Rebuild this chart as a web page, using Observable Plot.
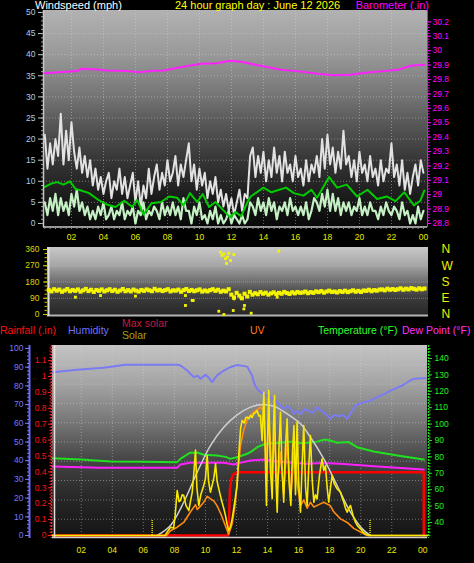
<!DOCTYPE html>
<html><head><meta charset="utf-8">
<script src="https://cdn.jsdelivr.net/npm/d3@7"></script>
<script src="https://cdn.jsdelivr.net/npm/@observablehq/plot@0.6"></script>
<style>
html,body{margin:0;padding:0;background:#000;}
#root{position:relative;width:474px;height:563px;background:#000;overflow:hidden;font-family:"Liberation Sans",Arial,sans-serif;}
#root svg{position:absolute;left:0;}
.lbl{position:absolute;white-space:nowrap;font-size:10.5px;line-height:13px;}
</style></head><body><div id="root"></div>
<script>
// ---------- tick labels ----------
const hourTicks = [2,4,6,8,10,12,14,16,18,20,22,24];
const hourLabels = ["02","04","06","08","10","12","14","16","18","20","22","00"];
const windTicks = [0,5,10,15,20,25,30,35,40,45,50];
const baroTicks = [28.8,28.9,29,29.1,29.2,29.3,29.4,29.5,29.6,29.7,29.8,29.9,30,30.1,30.2];
const baroLabels = ["28.8","28.9","29","29.1","29.2","29.3","29.4","29.5","29.6","29.7","29.8","29.9","30","30.1","30.2"];
const dirTicks = [0,90,180,270,360];
const dirLetters = ["N","E","S","W","N"];
const humTicks = [0,10,20,30,40,50,60,70,80,90,100];
const rainTicks = [0,0.1,0.2,0.3,0.4,0.5,0.6,0.7,0.8,0.9,1,1.1];
const rainLabels = ["0","0.1","0.2","0.3","0.4","0.5","0.6","0.7","0.8","0.9","1","1.1"];
const tempTicks = [40,50,60,70,80,90,100,110,120,130,140];

// ---------- wind (10-minute samples from 00:20) ----------
const windStart = 0.33, windStep = 1/6;
const gust = [
21,13,19,14,20,16, 26,14,22,15,24,17, 13,18,12,16,11,15, 9,13,8,11,7,10,
12,6,10,8,13,7, 11,6,9,12,5,10, 4,9,6,13,7,11, 14,8,12,9,15,10,
12,16,9,14,11,15, 19,10,14,8,13,9, 12,6,10,7,11,5, 8,4,7,3,6,2,
5,8,3,7,6,16, 18,11,16,12,17,10, 15,11,18,12,16,10, 17,12,14,10,16,11,
13,9,15,10,14,12, 16,11,20,13,21,14, 18,12,17,13,22,14, 16,11,15,10,17,12,
14,10,16,11,13,9, 15,10,13,12,19,11, 14,9,15,8,12,7, 11,14,9,15,12];
const speed = [
5,2,6,3,7,2, 6,3,5,2,7,4, 8,3,5,2,4,1, 3,1,4,2,5,1,
2,4,1,3,2,5, 1,3,2,4,0,3, 2,5,1,3,2,4, 3,1,5,2,4,2,
5,2,4,1,6,3, 3,0,4,2,5,1, 2,0,3,1,4,0, 2,0,1,3,0,2,
1,0,2,0,1,5, 4,2,6,3,5,2, 6,3,5,1,4,3, 5,2,6,3,4,2,
4,2,5,1,3,6, 5,3,7,4,8,3, 7,3,6,2,5,3, 5,2,4,3,6,2,
4,2,5,3,3,1, 4,2,5,3,2,4, 3,1,5,2,3,0, 2,0,4,1,3];
const avgT = [0.3,0.7,1.1,1.5,1.9,2.25,2.6,3.1,3.6,4.2,4.75,5.3,5.8,6.1,6.5,7.0,7.6,8.1,8.6,9.0,9.4,9.85,10.2,10.6,11.0,11.5,11.9,12.25,12.6,13.0,13.2,14.0,14.5,15.4,15.9,16.5,17.0,17.35,18.1,18.6,19.2,19.85,20.5,21.1,21.7,22.25,22.8,23.4,23.8,24.05];
const avgV = [8.6,9.4,9.8,9.2,10.0,8.2,7.8,7.2,5.8,4.5,3.9,5.4,3.9,5.6,2.1,4.8,5.1,6.4,6.1,4.3,7.2,5.1,7.0,3.9,5.1,3.1,1.5,2.7,1.7,5.1,6.4,8.5,7.4,8.5,7.2,6.6,8.0,6.1,11.0,8.5,9.2,6.4,8.0,5.8,6.4,5.3,7.4,4.3,5.4,7.8];

// ---------- barometer ----------
const baroT = [0.3,2.35,2.6,3.6,4.2,5.5,6.3,7.1,7.8,8.8,10.1,11.1,11.9,12.6,13.8,15.1,16.1,17.4,18.4,19.4,20.5,21.5,22.4,23.2,24.05];
const baroV = [29.844,29.858,29.874,29.869,29.862,29.858,29.851,29.86,29.862,29.885,29.909,29.913,29.93,29.923,29.895,29.867,29.858,29.84,29.83,29.833,29.849,29.858,29.867,29.895,29.902];

// ---------- wind direction ----------
const dirStart = 0.33, dirStep = 1/6;
const dirV = [
135,128,140,132,138,126, 133,141,129,136,131,139, 127,134,142,130,137,125, 136,131,139,128,134,140,
130,137,126,133,141,129, 135,128,138,132,127,136, 131,139,134,129,142,133, 137,130,135,140,128,134,
132,138,126,135,141,130, 136,129,134,139,127,133, 128,135,140,131,137,126, 132,128,140,110,95,120,
105,90,115,100,125,110, 118,112,124,115,121,110, 117,123,113,120,115,125, 119,114,123,117,125,120,
122,127,118,124,120,128, 124,130,121,127,132,125, 127,122,130,125,132,124, 129,134,126,131,125,133,
131,137,129,135,132,138, 139,134,143,137,141,136, 140,145,137,143,139,146, 142,138,145,140,144];
const dirExT = [11.15,11.25,11.36,11.46,11.57,11.67,11.78,11.53,11.99,14.82,8.94,9.36,8.94,2.01,5.79,3.59,11.04,11.36,11.95,12.62,12.66,13.08,12.0,12.41,14.72,9.43];
const dirExV = [345,327,336,309,318,340,299,283,332,351,105,78,50,96,102,105,18,0,22,31,50,7,87,96,96,78];

// ---------- bottom panel ----------
const humT = [0.15,1.74,3.45,4.85,8.18,8.39,8.82,9.25,9.5,9.68,10.0,10.2,10.43,10.6,10.75,11.18,11.6,12.04,12.69,13.0,13.15,13.33,13.5,13.76,14.0,14.4,14.7,15.04,15.3,15.5,15.69,15.9,16.12,16.4,16.65,16.9,17.2,17.4,17.62,17.8,18.05,18.3,18.59,18.85,19.13,19.4,19.66,20.2,20.6,21.06,21.5,21.91,22.3,22.77,23.1,23.41,24.17];
const humV = [87.3,88.6,89.7,91.3,91.3,90.9,88.2,84.7,85.5,83.8,85.9,84.5,82,84,85.6,88.2,90,91.2,90.3,85.6,81,78.4,77,75.8,74.5,73.1,70.5,67.8,69,67.8,65.1,66.5,65.1,67.5,66.8,65.5,68.6,67,65.9,64.5,62.4,64.5,63.8,64.5,62.4,66,69.5,71.3,72,74,75.5,77.5,78.8,80.6,82.5,83.8,84.1];
const tempT = [0.15,2,3.9,6,8.18,8.39,9.0,9.5,9.9,10.75,11.3,11.6,12.04,12.69,13.0,13.33,13.87,14.62,15.26,15.5,16.0,16.55,17.2,17.6,17.84,18.2,18.48,19.23,19.5,19.77,20.84,22.35,24.06];
const tempV = [79.2,78.4,77.2,77,76.8,78.8,82.5,82.5,81.3,80.9,80,78.8,79.8,81.9,83.5,85.9,88,88.4,89,89.3,88.4,88.6,89.3,90.4,90.4,89.5,88.6,89,87.5,85.9,83.3,80.9,78.4];
const dewT = [0.15,3.24,8.18,8.39,9.0,11.2,11.82,12.3,12.9,13.76,14.3,15.04,16.55,17.5,18.7,20.84,24.06];
const dewV = [74.1,73.3,73.3,75.4,76.4,76.4,75.4,76.5,77.8,78.4,77.5,76.8,75.8,76.2,75.8,74.3,72.3];
const rainT = [0.15,11.45,11.52,11.57,11.65,11.8,12.05,24.06,24.06];
const rainV = [0,0,0.1,0.28,0.35,0.385,0.398,0.398,0];
const maxSolT = [6.89,7.75,8.6,9.47,10.32,11.18,12.04,12.9,13.54,14.4,15.26,16.12,16.76,17.62,18.48,19.34,20.1,20.63];
const maxSolV = [0,74,245,467,663,798,889,946,963,953,897,823,724,565,368,172,49,0];
const solT = [0.15,7.4,7.53,7.75,7.95,8.05,8.18,8.3,8.39,8.5,8.6,8.75,8.93,9.05,9.15,9.25,9.36,9.45,9.57,9.7,9.89,10.0,10.11,10.2,10.32,10.45,10.55,10.65,10.75,10.86,10.97,11.07,11.18,11.29,11.4,11.5,11.6,11.72,11.85,11.95,12.04,12.15,12.26,12.36,12.5,12.6,12.69,12.8,12.9,13.0,13.11,13.22,13.33,13.44,13.54,13.65,13.76,13.85,13.93,14.0,14.08,14.18,14.3,14.38,14.45,14.53,14.62,14.72,14.83,14.93,15.04,15.15,15.26,15.38,15.5,15.6,15.7,15.8,15.9,16.0,16.12,16.22,16.33,16.45,16.55,16.65,16.76,16.88,16.98,17.08,17.19,17.35,17.51,17.62,17.73,17.84,17.94,18.05,18.16,18.3,18.48,18.6,18.7,18.8,18.91,19.02,19.13,19.23,19.34,19.5,19.66,19.8,19.98,20.15,20.3,20.52,24.3];
const solV = [0,0,24,61,55,150,332,250,258,300,295,220,184,260,319,455,630,350,221,300,368,420,590,400,319,380,430,528,400,344,290,245,200,147,80,37,60,123,220,300,368,600,786,848,830,870,872,860,885,870,897,905,921,880,884,700,1056,600,221,700,1069,500,272,800,1032,450,172,600,909,500,245,650,860,400,221,600,811,300,835,400,172,500,811,350,221,500,737,400,245,300,270,450,565,480,516,350,245,350,442,380,344,330,319,280,245,200,172,200,221,150,98,70,49,25,12,0,0];
const uvT = [0.15,7.5,7.75,8.18,8.6,9.04,9.36,9.47,9.7,9.89,10.11,10.32,10.55,10.75,11.0,11.29,11.5,11.72,11.93,12.1,12.26,12.45,12.69,12.9,13.11,13.33,13.54,13.76,13.93,14.08,14.3,14.45,14.62,14.83,15.04,15.26,15.5,15.69,15.9,16.12,16.33,16.55,16.76,16.98,17.3,17.62,18.05,18.26,18.7,19.13,19.55,19.98,20.4,24.3];
const uvV = [0,0,0.4,0.7,1.1,2.0,2.6,2.2,2.5,2.8,3.3,3.1,2.9,2.5,1.8,0.8,0.1,1.0,2.8,5.5,7.6,8.8,9.8,10.1,10.4,10.6,10.8,10.5,6.0,9.8,5.0,8.7,4.0,7.0,3.5,8.1,3.2,7.0,4.5,2.5,3.0,2.3,2.8,2.4,2.6,2.8,2.5,2.0,1.4,1.1,0.6,0.3,0,0];
const sunMarks = [6.57, 20.6];
const sunMarkTop = 110;

// ---------- helpers ----------
const FONT = "'Liberation Sans', Arial, sans-serif";
const root = document.getElementById("root");
const pts = (T, V) => T.slice(0, Math.min(T.length, V.length)).map((t, i) => ({t, v: V[i]}));
const series = (start, step, V) => V.map((v, i) => ({t: start + i * step, v}));

function bgMark(id, stops) {
  return (index, scales, values, dims) => {
    const ns = "http://www.w3.org/2000/svg";
    const g = document.createElementNS(ns, "g");
    const defs = document.createElementNS(ns, "defs");
    const lg = document.createElementNS(ns, "linearGradient");
    lg.setAttribute("id", id);
    lg.setAttribute("x1", "0"); lg.setAttribute("y1", "0"); lg.setAttribute("x2", "0"); lg.setAttribute("y2", "1");
    for (const [o, c] of stops) {
      const s = document.createElementNS(ns, "stop");
      s.setAttribute("offset", o); s.setAttribute("stop-color", c); lg.appendChild(s);
    }
    defs.appendChild(lg); g.appendChild(defs);
    const r = document.createElementNS(ns, "rect");
    r.setAttribute("x", dims.marginLeft); r.setAttribute("y", dims.marginTop);
    r.setAttribute("width", dims.width - dims.marginLeft - dims.marginRight);
    r.setAttribute("height", dims.height - dims.marginTop - dims.marginBottom);
    r.setAttribute("fill", `url(#${id})`);
    g.appendChild(r);
    return g;
  };
}

function layer(top, height, m, opts) {
  const svg = Plot.plot(Object.assign({
    width: 474, height,
    marginTop: m[0], marginRight: m[1], marginBottom: m[2], marginLeft: m[3],
    style: {background: "transparent", fontFamily: FONT, fontSize: "8.5px", overflow: "visible"}
  }, opts));
  svg.style.position = "absolute";
  svg.style.top = top + "px";
  svg.style.left = "0px";
  root.appendChild(svg);
}

function label(text, left, top, color, extra) {
  const d = document.createElement("div");
  d.className = "lbl";
  d.textContent = text;
  d.style.left = left + "px";
  d.style.top = top + "px";
  d.style.color = color;
  if (extra) Object.assign(d.style, extra);
  root.appendChild(d);
}

const hourFmt = d => hourLabels[hourTicks.indexOf(d)];

// ================= TOP PANEL =================
const TOP = [0, 245, [10, 47, 18, 43]];
const xTop = {domain: [0.25, 24.25]};
layer(TOP[0], TOP[1], TOP[2], {
  x: xTop,
  y: {domain: [-0.95, 50.47]},
  marks: [
    bgMark("gTop", [[0, "#b2b2b2"], [0.2, "#9a9a9a"], [0.41, "#727272"], [0.5, "#5c5c5c"], [0.69, "#363636"], [0.87, "#1a1a1a"], [1, "#080808"]]),
    Plot.ruleY(windTicks.slice(1, -1), {stroke: "#d8d8d8", strokeOpacity: 0.45, strokeDasharray: "1,2"}),
    Plot.ruleX(hourTicks.slice(0, -1), {stroke: "#d8d8d8", strokeOpacity: 0.45, strokeDasharray: "1,2"}),
    Plot.line(series(windStart, windStep, gust), {x: "t", y: "v", stroke: "#e2e2e2", strokeWidth: 2}),
    Plot.line(series(windStart, windStep, speed), {x: "t", y: "v", stroke: "#c4f0c4", strokeWidth: 2.2}),
    Plot.line(pts(avgT, avgV), {x: "t", y: "v", stroke: "#00cc00", strokeWidth: 2}),
    Plot.ruleY([-0.95], {stroke: "#c8c8c8", strokeWidth: 1.5, dy: -0.5}),
    Plot.ruleX([0.25], {stroke: "#c8c8c8", strokeWidth: 1.5}),
    Plot.axisY({anchor: "left", ticks: windTicks, tickSize: 5, tickPadding: 3, fill: "#a8cce8", stroke: "#c8c8c8", fontSize: 8.5, label: null}),
    Plot.axisY({anchor: "left", ticks: d3.range(0, 51, 1), tickSize: 2, tickFormat: () => "", stroke: "#a0a0a0", label: null}),
    Plot.axisX({anchor: "bottom", ticks: hourTicks, tickFormat: hourFmt, tickSize: 0, tickPadding: 6, fill: "#e8e800", fontSize: 8.5, label: null}),
    Plot.axisX({anchor: "bottom", ticks: d3.range(1, 73).map(k => k / 3), tickSize: 2, tickFormat: () => "", stroke: "#909090", label: null})
  ]
});
layer(TOP[0], TOP[1], TOP[2], {
  x: Object.assign({axis: null}, xTop),
  y: {domain: [28.772, 30.279]},
  marks: [
    Plot.line(pts(baroT, baroV), {x: "t", y: "v", stroke: "#ff22ff", strokeWidth: 2}),
    Plot.ruleX([24.25], {stroke: "#d020d0", strokeWidth: 1}),
    Plot.axisY({anchor: "right", ticks: baroTicks, tickFormat: d => baroLabels[baroTicks.indexOf(d)], tickSize: 3, tickPadding: 2, fill: "#ff00ff", stroke: "#ff00ff", fontSize: 8.5, label: null}),
    Plot.axisY({anchor: "right", ticks: d3.range(0, 71).map(k => 28.8 + k * 0.02), tickSize: 1.5, tickFormat: () => "", stroke: "#ff00ff", label: null})
  ]
});

// ================= DIRECTION PANEL =================
layer(240, 90, [7, 46, 14, 47], {
  x: {domain: [0.25, 24.25], axis: null},
  y: {domain: [-11.1, 371.1]},
  marks: [
    bgMark("gDir", [[0, "#c8c8c8"], [0.25, "#a8a8a8"], [0.5, "#6e6e6e"], [0.72, "#3c3c3c"], [1, "#262626"]]),
    Plot.ruleY([90, 180, 270], {stroke: "#c8c8c8", strokeOpacity: 0.4, strokeDasharray: "1,1"}),
    Plot.ruleY([-11.1], {stroke: "#b4b4b4", strokeWidth: 2, dy: -1}),
    Plot.ruleX([0.25], {stroke: "#e0e0e0", strokeWidth: 2, dx: 1}),
    Plot.dot(series(dirStart, dirStep, dirV), {x: "t", y: "v", r: 2.3, symbol: "square", fill: "#f4f400"}),
    Plot.dot(pts(dirExT, dirExV), {x: "t", y: "v", r: 1.6, symbol: "square", fill: "#f4f400"}),
    Plot.axisY({anchor: "left", ticks: dirTicks, tickSize: 4, tickPadding: 4, fill: "#d8d800", stroke: "#c8c800", fontSize: 8.5, label: null}),
    Plot.axisY({anchor: "left", ticks: d3.range(0, 361, 22.5), tickSize: 2.5, tickFormat: () => "", stroke: "#c8c800", label: null}),
    Plot.axisY({anchor: "right", ticks: dirTicks, tickFormat: d => dirLetters[dirTicks.indexOf(d)], tickSize: 0, tickPadding: 13, fill: "#f0f000", fontSize: 12, label: null})
  ]
});

// ================= BOTTOM PANEL =================
const BOT = [340, 223, [5, 47, 25, 52]];
const xBot = {domain: [0.15, 24.3], axis: null};
const gridBot = [8.7, 19.0, 29.4, 39.7, 50.0, 60.3, 70.6, 81.0, 91.3];
layer(BOT[0], BOT[1], BOT[2], {
  x: {domain: [0.15, 24.3]},
  y: {domain: [-1.6, 101.6]},
  marks: [
    bgMark("gBot", [[0, "#c4c4c4"], [0.2, "#a4a4a4"], [0.4, "#767676"], [0.6, "#444444"], [0.8, "#262626"], [1, "#141414"]]),
    Plot.ruleY(gridBot, {stroke: "#d8d8d8", strokeOpacity: 0.45, strokeDasharray: "1,2"}),
    Plot.ruleX(hourTicks.slice(0, -1), {stroke: "#d8d8d8", strokeOpacity: 0.45, strokeDasharray: "1,2"}),
    Plot.line(pts(humT, humV), {x: "t", y: "v", stroke: "#7b7bf4", strokeWidth: 2}),
    Plot.ruleX([0.15], {dx: -23, stroke: "#6c6cf0", strokeWidth: 2}),
    Plot.axisY({anchor: "left", dx: -23, ticks: humTicks, tickSize: 4, tickPadding: 2, fill: "#7878ff", stroke: "#7878ff", fontSize: 8.5, label: null}),
    Plot.axisY({anchor: "left", dx: -23, ticks: d3.range(0, 101, 2), tickSize: 2, tickFormat: () => "", stroke: "#7878ff", label: null}),
    Plot.axisX({anchor: "bottom", ticks: hourTicks, tickFormat: hourFmt, tickSize: 0, tickPadding: 8, fill: "#e8e800", fontSize: 8.5, label: null})
  ]
});
layer(BOT[0], BOT[1], BOT[2], {
  x: xBot,
  y: {domain: [30.24, 147.9]},
  marks: [
    Plot.line(pts(tempT, tempV), {x: "t", y: "v", stroke: "#20e020", strokeWidth: 2}),
    Plot.line(pts(dewT, dewV), {x: "t", y: "v", stroke: "#ff20ff", strokeWidth: 2}),
    Plot.ruleX([24.3], {dx: 1, stroke: "#20e020", strokeWidth: 1.5, strokeDasharray: "2,1"}),
    Plot.axisY({anchor: "right", dx: 1, ticks: tempTicks, tickSize: 3, tickPadding: 3, fill: "#20f020", stroke: "#20e020", fontSize: 8.5, label: null}),
    Plot.axisY({anchor: "right", dx: 1, ticks: d3.range(32, 148, 2), tickSize: 1.5, tickFormat: () => "", stroke: "#20e020", label: null})
  ]
});
layer(BOT[0], BOT[1], BOT[2], {
  x: xBot,
  y: {domain: [-0.019, 1.195]},
  marks: [
    Plot.line(pts(rainT, rainV), {x: "t", y: "v", stroke: "#ff0000", strokeWidth: 2.5, curve: "linear"}),
    Plot.ruleX([0.15], {dx: -1, stroke: "#ff2020", strokeWidth: 1.5, strokeDasharray: "2,1"}),
    Plot.axisY({anchor: "left", dx: -1, ticks: rainTicks, tickFormat: d => rainLabels[rainTicks.indexOf(d)], tickSize: 3, tickPadding: 2, fill: "#ff1010", stroke: "#ff2020", fontSize: 8.5, label: null}),
    Plot.axisY({anchor: "left", dx: -1, ticks: d3.range(0, 60).map(k => k * 0.02), tickSize: 1.5, tickFormat: () => "", stroke: "#ff2020", label: null})
  ]
});
layer(BOT[0], BOT[1], BOT[2], {
  x: xBot,
  y: {domain: [-22, 1400], axis: null},
  marks: [
    Plot.line(pts(maxSolT, maxSolV), {x: "t", y: "v", stroke: "#cfcfcf", strokeWidth: 1.5, curve: "catmull-rom"})
  ]
});
layer(BOT[0], BOT[1], BOT[2], {
  x: xBot,
  y: {domain: [-0.25, 16], axis: null},
  marks: [
    Plot.line(pts(uvT, uvV), {x: "t", y: "v", stroke: "#ff8a10", strokeWidth: 1.6})
  ]
});
layer(BOT[0], BOT[1], BOT[2], {
  x: xBot,
  y: {domain: [-22, 1400], axis: null},
  marks: [
    Plot.ruleX(sunMarks, {y1: 0, y2: sunMarkTop, stroke: "#f0e000", strokeWidth: 1.5, strokeDasharray: "1,1"}),
    Plot.line(pts(solT, solV), {x: "t", y: "v", stroke: "#f8e800", strokeWidth: 1.6}),
    Plot.ruleX([0.15], {dx: 2, stroke: "#e0e0e0", strokeWidth: 1.5}),
    Plot.ruleY([-22], {dy: -1, stroke: "#d0d0d0", strokeWidth: 1.5})
  ]
});

// ================= TEXT =================
label("Windspeed (mph)", 35, -1, "#ffffff", {fontSize: "11px", lineHeight: "12px"});
label("24 hour graph day : June 12 2026", 175, -1, "#ffff00", {fontSize: "11px", lineHeight: "12px"});
label("Barometer (.in)", 0, -1, "#ff00ff", {fontSize: "11px", lineHeight: "12px", left: "auto", right: "45px"});
label("Rainfall (.in)", 0, 324, "#ff1010");
label("Humidity", 68, 324, "#7070ff");
label("Max solar", 122, 317, "#c41a44");
label("Solar", 122, 329, "#a8a010");
label("UV", 250, 324, "#ff7a20");
label("Temperature (°F)", 318, 324, "#30ff30");
label("Dew Point (°F)", 402, 324, "#ff30ff");
</script></body></html>
